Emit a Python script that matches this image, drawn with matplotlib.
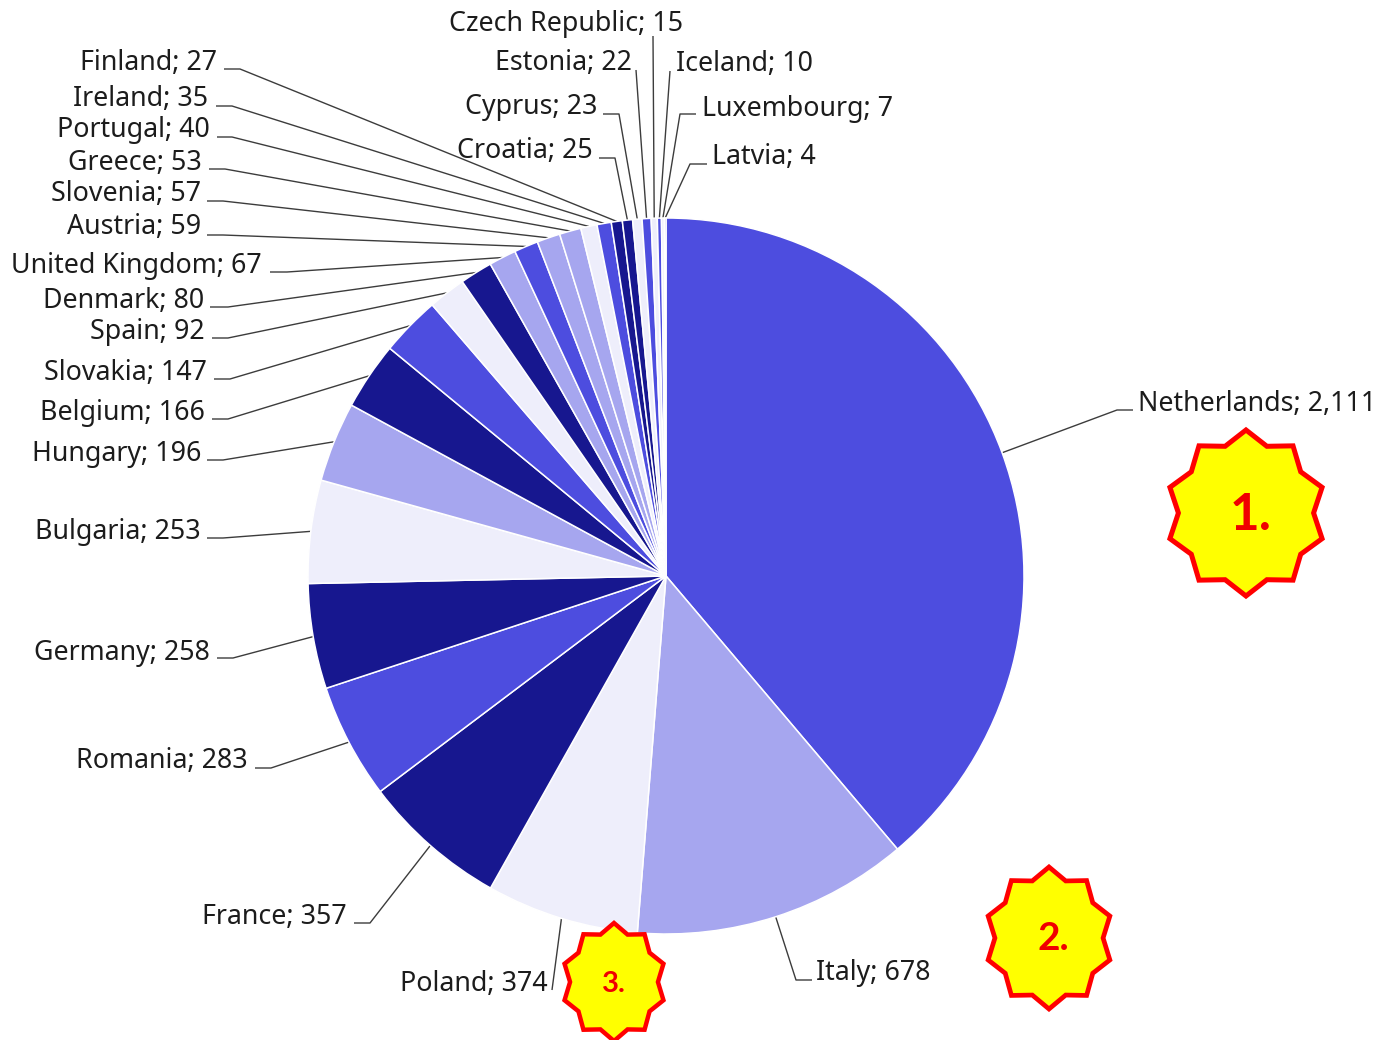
import numpy as np
import matplotlib
matplotlib.use('Agg')
import matplotlib.pyplot as plt
from matplotlib.patches import Polygon

countries = ["Netherlands", "Italy", "Poland", "France", "Romania", "Germany", "Bulgaria",
             "Hungary", "Belgium", "Slovakia", "Spain", "Denmark", "United Kingdom", "Austria",
             "Slovenia", "Greece", "Portugal", "Ireland", "Finland", "Croatia", "Cyprus",
             "Estonia", "Czech Republic", "Iceland", "Luxembourg", "Latvia"]
values = [2111, 678, 374, 357, 283, 258, 253, 196, 166, 147, 92, 80, 67, 59, 57, 53, 40, 35,
          27, 25, 23, 22, 15, 10, 7, 4]

BLUE, LIGHT, PALE, DARK = '#4d4ddf', '#a6a6ef', '#eeeefb', '#17178f'
slice_colors = [BLUE, LIGHT, PALE, DARK, BLUE, DARK, PALE, LIGHT, DARK, BLUE, PALE, DARK, LIGHT,
                BLUE, LIGHT, LIGHT, PALE, BLUE, DARK, DARK, PALE, BLUE, PALE, BLUE, PALE, BLUE]

# label layout in pixels from the top left: text x, text y, align, then the leader's stub
# (stub far end x, elbow x, stub y); Poland and the top ones have no stub
label_layout = {
    "Netherlands": (1138, 401, 'left', 1133, 1117, 410),
    "Italy": (816, 970, 'left', 812, 796, 980),
    "Poland": (548, 981, 'right', None, 552, 990),
    "France": (347, 914, 'right', 354, 370, 923),
    "Romania": (248, 758, 'right', 255, 271, 768),
    "Germany": (210, 650, 'right', 217, 233, 658),
    "Bulgaria": (201, 529, 'right', 207, 223, 538),
    "Hungary": (201, 451, 'right', 207, 223, 460),
    "Belgium": (205, 410, 'right', 212, 228, 419),
    "Slovakia": (207, 370, 'right', 214, 230, 379),
    "Spain": (205, 329, 'right', 212, 228, 338),
    "Denmark": (204, 298, 'right', 210, 228, 307),
    "United Kingdom": (262, 263, 'right', 270, 287, 272),
    "Austria": (201, 224, 'right', 207, 223, 235),
    "Slovenia": (201, 191, 'right', 207, 223, 201),
    "Greece": (202, 160, 'right', 209, 225, 169),
    "Portugal": (210, 127, 'right', 217, 232, 137),
    "Ireland": (208, 96, 'right', 216, 232, 106),
    "Finland": (217, 60, 'right', 224, 240, 69),
    "Croatia": (593, 148, 'right', 599, 615, 158),
    "Cyprus": (597, 104, 'right', 603, 619, 114),
    "Estonia": (632, 60, 'right', None, 636, 70),
    "Czech Republic": (683, 21, 'right', None, 653, 36),
    "Iceland": (676, 61, 'left', None, 670, 71),
    "Luxembourg": (702, 106, 'left', 696, 680, 114),
    "Latvia": (712, 154, 'left', 707, 690, 164),
}

# badge: text, centre x, centre y, x radius, y radius, font size, edge width, text x, text y
badges = [("1.", 1246, 513, 80, 83, 37, 3.6, 1251, 516),
          ("2.", 1049, 938, 64, 71, 28, 3.4, 1053, 938),
          ("3.", 614, 982, 52, 59, 21, 3.2, 614, 984)]

H = 1040
cx, cy, radius = 666, 576, 358

fig = plt.figure(figsize=(13.83, 10.40), dpi=100)
ax = fig.add_axes([0, 0, 1, 1])

wedges, _ = ax.pie(values, colors=slice_colors, startangle=90, counterclock=False,
                   center=(cx, H - cy), radius=radius, frame=True,
                   wedgeprops={'edgecolor': 'white', 'linewidth': 1.1})
ax.set_xlim(0, 1383)
ax.set_ylim(0, H)
ax.set_aspect('equal')
ax.axis('off')

for wedge, name, val in zip(wedges, countries, values):
    tx, ty, align, stub, ex, ey = label_layout[name]
    ang = np.deg2rad((wedge.theta1 + wedge.theta2) / 2)
    px = cx + radius * np.cos(ang)
    py = H - cy + radius * np.sin(ang)
    xs = [px, ex]
    ys = [py, H - ey]
    if stub is not None:
        xs.append(stub)
        ys.append(H - ey)
    ax.plot(xs, ys, color='#3c3c3c', lw=1.0, solid_capstyle='butt', zorder=0.5)
    ax.text(tx, H - ty - 3, f"{name}; {val:,}", ha=align, va='center', fontsize=19.3,
            family='Noto Sans', color='#1c1c1c')

for label, bx, by, rx, ry, size, edge, lx, ly in badges:
    a = np.arange(20) * np.pi / 10
    r = np.where(np.arange(20) % 2 == 0, 1.0, 0.845)
    star = np.column_stack([bx + rx * r * np.sin(a), H - by + ry * r * np.cos(a)])
    ax.add_patch(Polygon(star, closed=True, facecolor='#ffff00', edgecolor='#ff0000',
                         linewidth=edge, joinstyle='miter', zorder=3))
    ax.text(lx, H - ly, label, ha='center', va='center', fontsize=size, family='Lato',
            fontweight='bold', color='#f00000', zorder=4)

fig.savefig('out.png', dpi=100)
